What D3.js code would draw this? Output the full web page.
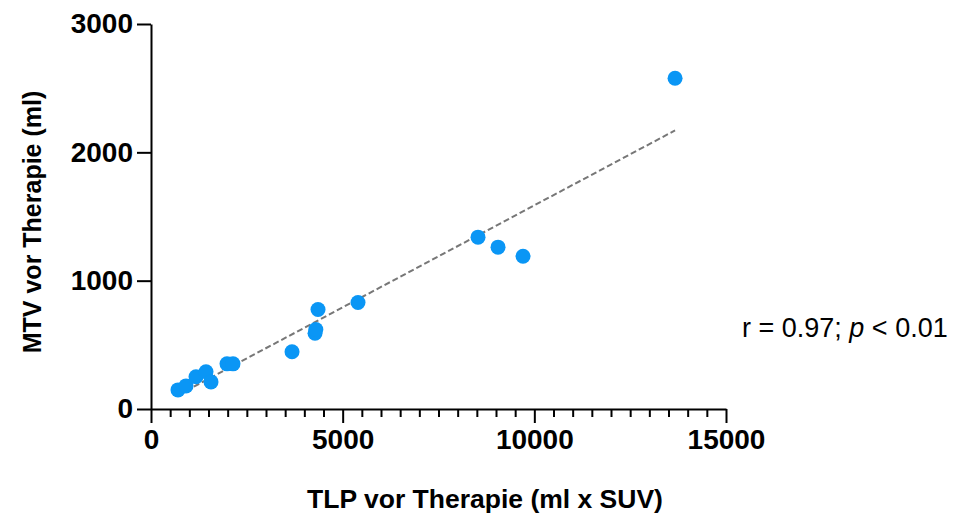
<!DOCTYPE html>
<html>
<head>
<meta charset="utf-8">
<script src="https://cdn.jsdelivr.net/npm/d3@7"></script>
<style>
  html, body { margin: 0; padding: 0; background: #fff; }
  svg { display: block; font-family: "Liberation Sans", Arial, Helvetica, sans-serif; }
</style>
</head>
<body>
<svg id="chart" width="955" height="517"></svg>
<script>
// ---- data ----
const tlp = [704, 913, 1174, 1435, 1565, 1983, 2139, 3679, 4279, 4300, 4357, 5400, 8531, 9053, 9705, 13671];
const mtv = [149, 180, 251, 290, 211, 352, 352, 446, 590, 620, 775, 830, 1339, 1261, 1190, 2577];
const xTicks = [0, 5000, 10000, 15000];
const yTicks = [0, 1000, 2000, 3000];
const fitSlope = 0.159;
const fitIntercept = -3;
const fitRange = [704, 13671];
const xTitle = "TLP vor Therapie (ml x SUV)";
const yTitle = "MTV vor Therapie (ml)";

const svg = d3.select("#chart");
const x = d3.scaleLinear().domain([0, 15000]).range([151, 726]);
const y = d3.scaleLinear().domain([0, 3000]).range([409, 24]);
const FONT = "Liberation Sans, Arial, sans-serif";

// x axis minor ticks
const xMinor = d3.range(0, 15001, 500).filter(v => !xTicks.includes(v));
const gx = svg.append("g").attr("transform", `translate(0,${y(0)})`);
gx.append("g").call(d3.axisBottom(x).tickValues(xMinor).tickSize(8).tickFormat(""))
  .call(g => g.select(".domain").remove())
  .selectAll("line").attr("stroke", "#000").attr("stroke-width", 2);
gx.append("g").call(d3.axisBottom(x).tickValues(xTicks).tickSize(14).tickSizeOuter(0).tickPadding(6).tickFormat(d3.format("d")))
  .call(g => g.select(".domain").attr("stroke", "#000").attr("stroke-width", 2))
  .call(g => g.selectAll("line").attr("stroke", "#000").attr("stroke-width", 2))
  .call(g => g.selectAll("text").attr("fill", "#000").attr("font-size", 28).attr("font-weight", "bold")
     .attr("font-family", FONT));

const gy = svg.append("g").attr("transform", `translate(${x(0)},0)`);
gy.call(d3.axisLeft(y).tickValues(yTicks).tickSize(14).tickSizeOuter(0).tickPadding(4).tickFormat(d3.format("d")))
  .call(g => g.select(".domain").attr("stroke", "#000").attr("stroke-width", 2))
  .call(g => g.selectAll("line").attr("stroke", "#000").attr("stroke-width", 2))
  .call(g => g.selectAll("text").attr("fill", "#000").attr("font-size", 28).attr("font-weight", "bold")
     .attr("font-family", FONT));

// regression line
svg.append("line")
  .attr("x1", x(fitRange[0])).attr("y1", y(fitSlope * fitRange[0] + fitIntercept))
  .attr("x2", x(fitRange[1])).attr("y2", y(fitSlope * fitRange[1] + fitIntercept))
  .attr("stroke", "#777").attr("stroke-width", 2).attr("stroke-dasharray", "6,3");

// points
svg.append("g").selectAll("circle").data(tlp.map((v, i) => [v, mtv[i]])).join("circle")
  .attr("cx", d => x(d[0])).attr("cy", d => y(d[1])).attr("r", 7.5)
  .attr("fill", "#0a96f5");

// titles
svg.append("text").attr("x", 485).attr("y", 508).attr("text-anchor", "middle")
  .attr("font-size", 26.5).attr("font-weight", "bold").text(xTitle);
svg.append("text").attr("transform", "translate(41,222) rotate(-90)").attr("text-anchor", "middle")
  .attr("font-size", 25).attr("font-weight", "bold").text(yTitle);

// annotation
const ann = svg.append("text").attr("x", 742).attr("y", 337).attr("font-size", 27);
ann.append("tspan").text("r = 0.97; ");
ann.append("tspan").attr("font-style", "italic").text("p");
ann.append("tspan").text(" < 0.01");
</script>
</body>
</html>
